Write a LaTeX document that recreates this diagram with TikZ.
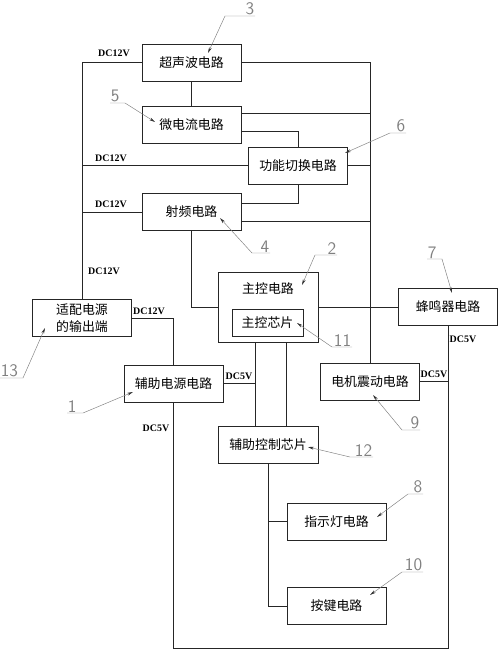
\documentclass[tikz,border=0pt]{standalone}
\usepackage{fontspec}
\setmainfont{Liberation Serif}
\newfontfamily\cjk{Noto Sans CJK SC}
\usetikzlibrary{calc,arrows.meta}

\tikzset{
  blk/.style={draw=black!85, line width=0.7pt, minimum width=2.97cm, minimum height=1.11cm,
    inner sep=0pt, font=\cjk\fontsize{11}{15}\selectfont},
  txt/.style={inner sep=0pt, font=\cjk\fontsize{11}{15}\selectfont},
  wire/.style={draw=black!85, line width=0.7pt},
  dc/.style={inner sep=0pt, font=\bfseries\fontsize{8.5}{9}\selectfont},
  num/.style={inner sep=0.5pt, text=gray, font=\sffamily\fontsize{15}{15}\selectfont},
  lead/.style={draw=gray, line width=0.4pt, -{Stealth[length=5pt,width=2.4pt,color=black!80]}},
}

\begin{document}
\begin{tikzpicture}[x=0.03cm, y=-0.03cm]
    \useasboundingbox (0,0) rectangle (500,651);

    % blocks
    \node[blk] (us) at (191.5,62.5) {超声波电路};
    \node[blk] (mc) at (191.5,124.5) {微电流电路};
    \node[blk] (sw) at (298,165.5) {功能切换电路};
    \node[blk] (rf) at (191.5,212) {射频电路};
    \node[blk, minimum width=3cm, minimum height=2.1cm] (mcu) at (268,307) {};
    \node[txt] (mcut) at (268,289) {主控电路};
    \node[blk, minimum width=2.13cm, minimum height=0.81cm] (chip) at (267.5,322.5) {主控芯片};
    \node[blk] (bz) at (448,306.5) {蜂鸣器电路};
    \node[blk] (mt) at (370,381.5) {电机震动电路};
    \node[blk, minimum width=3cm] (ac) at (268,444.5) {辅助控制芯片};
    \node[blk] (led) at (336.5,521.5) {指示灯电路};
    \node[blk] (key) at (336.5,606) {按键电路};
    \node[blk, align=center] (ad) at (82,318) {适配电源\\的输出端};
    \node[blk] (aux) at (173.5,383.5) {辅助电源电路};

    % wires
    \draw[wire] (us.south) -- (mc.north);
    \draw[wire] (us.west) -| (ad.north);
    \draw[wire] (us.east) -| (mt.north);
    \draw[wire] ($(mc.north east)+(0,8)$) coordinate (m1) -- (m1 -| mt.north);
    \draw[wire] ($(mc.south east)+(0,-12)$) -| (sw.north);
    \draw[wire] (sw.east) -- (sw.east -| mt.north);
    \draw[wire] (sw.west) -- (sw.west -| ad.north);
    \draw[wire] (sw.south) |- ($(rf.north east)+(0,10)$);
    \draw[wire] (rf.west) -- (rf.west -| ad.north);
    \draw[wire] ($(rf.south east)+(0,-10)$) coordinate (r1) -- (r1 -| mt.north);
    \draw[wire] (rf.south) |- (mcu.west);
    \draw[wire] (mcu.east) -- (mcu.east -| bz.west);
    \draw[wire] ($(mcu.south)+(-13,0)$) coordinate (v1) -- (v1 |- ac.north);
    \draw[wire] ($(mcu.south)+(18,0)$) coordinate (v2) -- (v2 |- ac.north);
    \draw[wire] (aux.east) -- (aux.east -| v1);
    \draw[wire] (ad.east) -| (aux.north);
    \coordinate (bot) at (0,648);
    \draw[wire] (aux.south) -- (aux.south |- bot) -| (bz.south);
    \draw[wire] (mt.east) -- (mt.east -| bz.south);
    \draw[wire] (ac.south) |- (key.west);
    \draw[wire] (ac.south |- led.west) -- (led.west);

    % supply labels
    \node[dc] (dc1) at (114,53) {DC12V};
    \node[dc] (dc2) at (111,158) {DC12V};
    \node[dc] (dc3) at (111,204) {DC12V};
    \node[dc] (dc4) at (104,271) {DC12V};
    \node[dc] (dc5) at (149,311) {DC12V};
    \node[dc] (dc6) at (239,376) {DC5V};
    \node[dc] (dc7) at (156,428) {DC5V};
    \node[dc] (dc8) at (434,374) {DC5V};
    \node[dc] (dc9) at (463,339) {DC5V};

    % reference numbers
    \node[num, anchor=south east] (n3) at (255,16) {3};
    \draw[lead] (n3.south east) -- (225,16) -- (208,53);
    \node[num, anchor=south west] (n5) at (110,103) {5};
    \draw[lead] (n5.south west) -- (125,103) -- (155,122);
    \node[num, anchor=south east] (n6) at (406,133) {6};
    \draw[lead] (n6.south east) -- (390,133) -- (345,153);
    \node[num, anchor=south east] (n4) at (270,253) {4};
    \draw[lead] (n4.south east) -- (252,253) -- (220,218);
    \node[num, anchor=south east] (n2) at (337,255) {2};
    \draw[lead] (n2.south east) -- (315,255) -- (302,285);
    \node[num, anchor=south west] (n7) at (427,259) {7};
    \draw[lead] (n7.south west) -- (442,259) -- (452,293);
    \node[num, anchor=south east] (n11) at (352,347) {11};
    \draw[lead] (n11.south east) -- (332,347) -- (297,323);
    \node[num, anchor=south east] (n9) at (420,430) {9};
    \draw[lead] (n9.south east) -- (402,430) -- (373,395);
    \node[num, anchor=south east] (n12) at (373,457) {12};
    \draw[lead] (n12.south east) -- (350,457) -- (308,447);
    \node[num, anchor=south east] (n8) at (423,494) {8};
    \draw[lead] (n8.south east) -- (408,494) -- (377,517);
    \node[num, anchor=south east] (n10) at (423,572) {10};
    \draw[lead] (n10.south east) -- (402,572) -- (370,595);
    \node[num, anchor=south west] (n1) at (67,413) {1};
    \draw[lead] (n1.south west) -- (83,413) -- (133,392);
    \node[num, anchor=south west] (n13) at (0,378) {13};
    \draw[lead] (n13.south west) -- (23,378) -- (45,328);
\end{tikzpicture}
\end{document}
